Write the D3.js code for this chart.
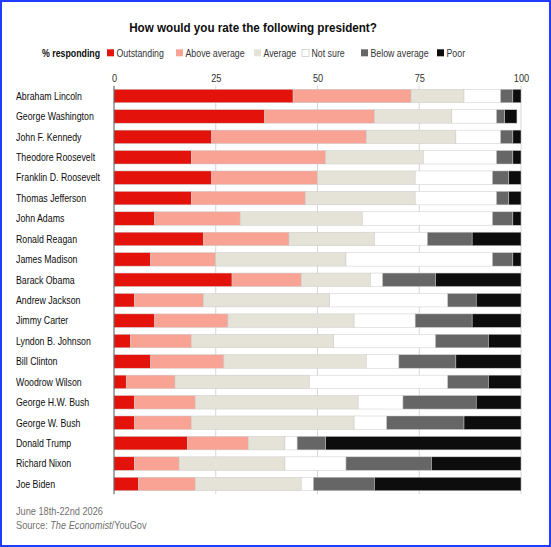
<!DOCTYPE html>
<html>
<head>
<meta charset="utf-8">
<script src="https://cdn.jsdelivr.net/npm/d3@7"></script>
<style>
  html, body { margin: 0; padding: 0; background: #fff; }
  svg { display: block; }
  text { font-family: 'Liberation Sans', Arial, sans-serif; }
</style>
</head>
<body>
<svg id="chart" width="551" height="547"></svg>
<script>
const presidents = ["Abraham Lincoln","George Washington","John F. Kennedy","Theodore Roosevelt","Franklin D. Roosevelt","Thomas Jefferson","John Adams","Ronald Reagan","James Madison","Barack Obama","Andrew Jackson","Jimmy Carter","Lyndon B. Johnson","Bill Clinton","Woodrow Wilson","George H.W. Bush","George W. Bush","Donald Trump","Richard Nixon","Joe Biden"];
const categories = ["Outstanding","Above average","Average","Not sure","Below average","Poor"];
const outstanding  = [44,37,24,19,24,19,10,22, 9,29, 5,10, 4, 9, 3, 5, 5,18, 5, 6];
const aboveAverage = [29,27,38,33,26,28,21,21,16,17,17,18,15,18,12,15,14,15,11,14];
const average      = [13,19,22,24,24,27,30,21,32,17,31,31,35,35,33,40,40, 9,26,26];
const notSure      = [ 9,11,11,18,19,20,32,13,36, 3,29,15,25, 8,34,11, 8, 3,15, 3];
const belowAverage = [ 3, 2, 3, 4, 4, 3, 5,11, 5,13, 7,14,13,14,10,18,19, 7,21,15];
const poor         = [ 2, 3, 2, 2, 3, 3, 2,12, 2,21,11,12, 8,16, 8,11,14,48,22,36];
const tickValues = [0,25,50,75,100];
const colors = ["#e3120b","#f8a393","#e5e3d8","#ffffff","#666666","#0d0d0d"];

const rows = presidents.map((p,i)=>({name:p, Outstanding:outstanding[i], "Above average":aboveAverage[i], Average:average[i], "Not sure":notSure[i], "Below average":belowAverage[i], Poor:poor[i]}));

const svg = d3.select("#chart");
svg.append("rect").attr("x",1).attr("y",1).attr("width",549).attr("height",545)
  .attr("fill","#fff").attr("stroke","#1f3cff").attr("stroke-width",2);

// narrow-font emulation: measure a reference label and derive horizontal squeeze
const probe = svg.append("text").attr("font-size",10.5).text("Abraham Lincoln");
const SX = 66 / probe.node().getComputedTextLength();
probe.remove();

function txt(parent, x, y, str, opts = {}) {
  const t = parent.append("text")
    .attr("transform", `translate(${x},${y}) scale(${opts.sx || SX},1)`)
    .attr("font-size", opts.size || 10.5)
    .attr("fill", opts.fill || "#0d0d0d")
    .attr("text-anchor", opts.anchor || "start");
  if (opts.weight) t.attr("font-weight", opts.weight);
  if (opts.dy) t.attr("dy", opts.dy);
  if (str !== null) t.text(str);
  return t;
}

const x = d3.scaleLinear().domain([0,100]).range([114,521]);
const y = d3.scaleBand().domain(presidents).range([85.8,494.2]).paddingInner(0.34).paddingOuter(0.17);
const color = d3.scaleOrdinal().domain(categories).range(colors);

// title
const title = txt(svg, 253, 31.5, "How would you rate the following president?", {size:13, weight:"bold", anchor:"middle", sx:1});
const tw = title.node().getComputedTextLength();
title.attr("transform", `translate(253,31.5) scale(${248/tw},1)`);

// legend
const lg = svg.append("g");
txt(lg, 42, 56.5, "% responding", {weight:"bold"});
const legendX = [107,176,254,302,361,437];
categories.forEach((c,i)=>{
  lg.append("rect").attr("x",legendX[i]).attr("y",49.3).attr("width",7).attr("height",7)
    .attr("fill",color(c)).attr("stroke", c==="Not sure" ? "#bbb" : "none").attr("stroke-width",0.6);
  txt(lg, legendX[i]+9.5, 56.5, c, {fill:"#333"});
});

// grid
const [gy0, gy1] = y.range();
svg.append("g").selectAll("line").data(tickValues.slice(1)).join("line")
  .attr("x1",d=>x(d)).attr("x2",d=>x(d)).attr("y1",gy0).attr("y2",gy1)
  .attr("stroke","#d6d6d6").attr("stroke-width",1);

// axis top
const axis = svg.append("g").attr("transform",`translate(0,${gy0})`)
  .call(d3.axisTop(x).tickValues(tickValues).tickSize(0).tickPadding(4));
axis.select(".domain").remove();
axis.selectAll("text").attr("font-size",11).attr("fill","#333")
  .attr("font-family","'Liberation Sans', Arial, sans-serif")
  .attr("transform",`scale(${SX},1)`);

// bars
const stack = d3.stack().keys(categories)(rows);
svg.append("g").selectAll("g").data(stack).join("g")
  .attr("fill",d=>color(d.key))
  .selectAll("rect").data(d=>d).join("rect")
  .attr("x",d=>x(d[0])).attr("width",d=>x(d[1])-x(d[0]))
  .attr("y",d=>y(d.data.name)).attr("height",y.bandwidth())
  .attr("stroke","#c9c9c9").attr("stroke-width",0.5);

// zero line
svg.append("line").attr("x1",x(0)).attr("x2",x(0)).attr("y1",gy0).attr("y2",gy1)
  .attr("stroke","#555").attr("stroke-width",1);

// y labels
const yl = svg.append("g");
presidents.forEach(p => txt(yl, 16, y(p)+y.bandwidth()/2, p, {dy:"0.36em"}));

// footer
txt(svg, 16, 514.5, "June 18th-22nd 2026", {fill:"#707070", size:11});
const src = txt(svg, 16, 528.5, null, {fill:"#707070", size:11});
src.append("tspan").text("Source: ");
src.append("tspan").attr("font-style","italic").text("The Economist");
src.append("tspan").text("/YouGov");
</script>
</body>
</html>
